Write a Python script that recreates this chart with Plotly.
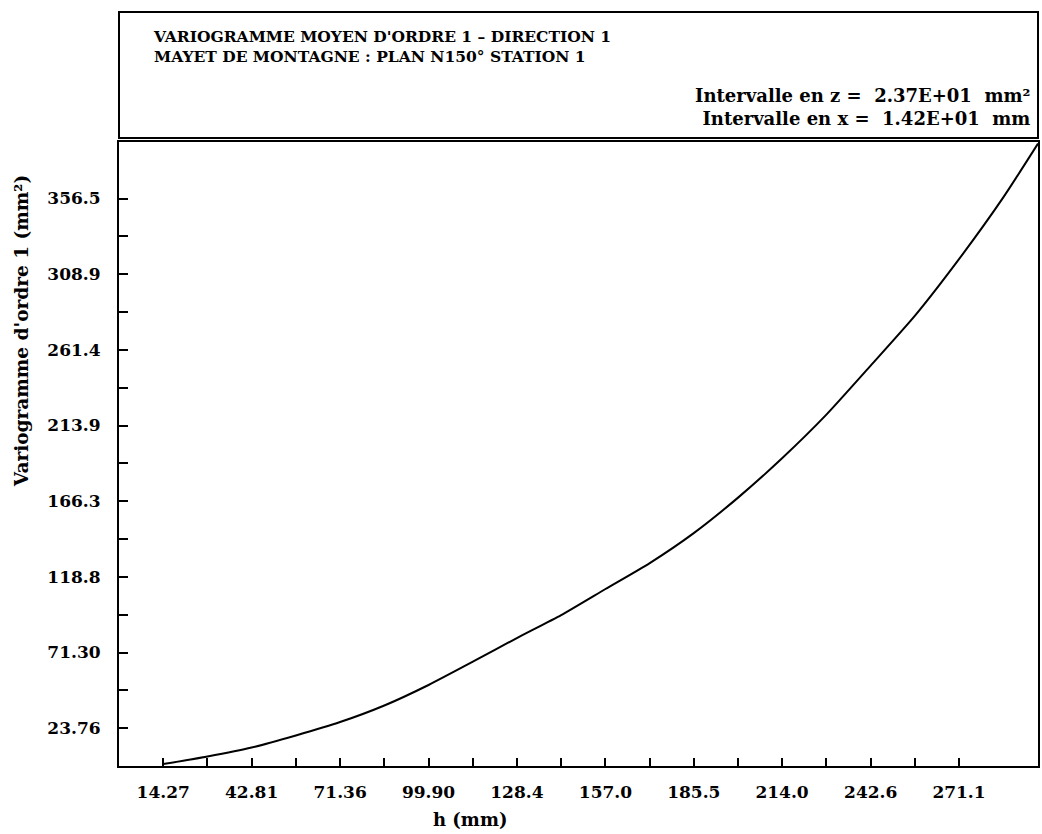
import plotly.graph_objects as go

# ---- data ----
h_mm = [14.27, 28.54, 42.81, 57.08, 71.36, 85.63, 99.90, 114.2, 128.4, 142.7,
        157.0, 171.3, 185.5, 199.8, 214.0, 228.3, 242.6, 256.9, 271.1, 285.4, 296.6]
variogram = [1.2, 6.0, 11.6, 19.2, 27.6, 38.0, 50.9, 65.5, 80.4, 94.8,
             111.2, 127.5, 146.3, 168.6, 193.3, 220.7, 251.5, 282.9, 318.4, 357.2, 391.0]

x_tickvals = [14.27, 28.54, 42.81, 57.08, 71.36, 85.63, 99.90, 114.17, 128.4, 142.7,
              157.0, 171.25, 185.5, 199.8, 214.0, 228.3, 242.6, 256.8, 271.1]
x_ticktext = ["14.27", "", "42.81", "", "71.36", "", "99.90", "", "128.4", "",
              "157.0", "", "185.5", "", "214.0", "", "242.6", "", "271.1"]
y_tickvals = [23.76, 47.53, 71.30, 95.05, 118.8, 142.6, 166.3, 190.1, 213.9, 237.6,
              261.4, 285.2, 308.9, 332.7, 356.5]
y_ticktext = ["23.76", "", "71.30", "", "118.8", "", "166.3", "", "213.9", "",
              "261.4", "", "308.9", "", "356.5"]

title_lines = ["VARIOGRAMME MOYEN D'ORDRE 1 – DIRECTION 1",
               "MAYET DE MONTAGNE : PLAN N150° STATION 1"]
interval_lines = ["Intervalle en z =  2.37E+01  mm²",
                  "Intervalle en x =  1.42E+01  mm"]
x_title = "h (mm)"
y_title = "Variogramme d'ordre 1 (mm²)"

FONT = "DejaVu Serif"

# ---- figure geometry (pixels) ----
W, H = 1042, 834
L, R, T, B = 119, 2, 142, 68
PW, PH = W - L - R, H - T - B


def px_x(p):
    return (p - L) / PW


def px_y(p):
    return (H - B - p) / PH


fig = go.Figure()
fig.add_trace(go.Scatter(x=h_mm, y=variogram, mode="lines",
                         line=dict(color="black", width=2, shape="spline", smoothing=0.6),
                         showlegend=False, hoverinfo="skip"))

axis_common = dict(showgrid=False, zeroline=False, showline=True, linecolor="black",
                   linewidth=2, mirror=True, ticks="inside", tickcolor="black",
                   tickwidth=2, tickmode="array",
                   tickfont=dict(family=FONT, size=17, color="black", weight="bold"))

fig.update_xaxes(range=[0, 296.6], tickvals=x_tickvals, ticktext=x_ticktext,
                 ticklen=8, ticklabelstandoff=10, **axis_common)
fig.update_yaxes(range=[0, 392], tickvals=y_tickvals, ticktext=y_ticktext,
                 ticklen=9, ticklabelstandoff=13, **axis_common)

shapes = [dict(type="rect", xref="paper", yref="paper",
               x0=0, x1=1, y0=px_y(138), y1=px_y(12),
               line=dict(color="black", width=2), fillcolor="rgba(0,0,0,0)")]

annotations = []
annotations.append(dict(text="<br>".join(title_lines), xref="paper", yref="paper",
                        x=px_x(151), y=px_y(46), xanchor="left", yanchor="middle", align="left",
                        showarrow=False,
                        font=dict(family=FONT, size=15.5, color="black", weight="bold")))
annotations.append(dict(text="<br>".join(interval_lines), xref="paper", yref="paper",
                        x=px_x(1034), y=px_y(107), xanchor="right", yanchor="middle", align="right",
                        showarrow=False,
                        font=dict(family=FONT, size=18, color="black", weight="bold")))
annotations.append(dict(text=x_title, xref="paper", yref="paper", x=px_x(471), y=px_y(819),
                        xanchor="center", yanchor="middle", showarrow=False,
                        font=dict(family=FONT, size=18, color="black", weight="bold")))
annotations.append(dict(text=y_title, xref="paper", yref="paper", x=px_x(21), y=px_y(331),
                        xanchor="center", yanchor="middle", showarrow=False, textangle=-90,
                        font=dict(family=FONT, size=18.5, color="black", weight="bold")))

fig.update_layout(width=W, height=H, margin=dict(l=L, r=R, t=T, b=B),
                  paper_bgcolor="white", plot_bgcolor="white",
                  shapes=shapes, annotations=annotations)

fig.write_html("out.html")
